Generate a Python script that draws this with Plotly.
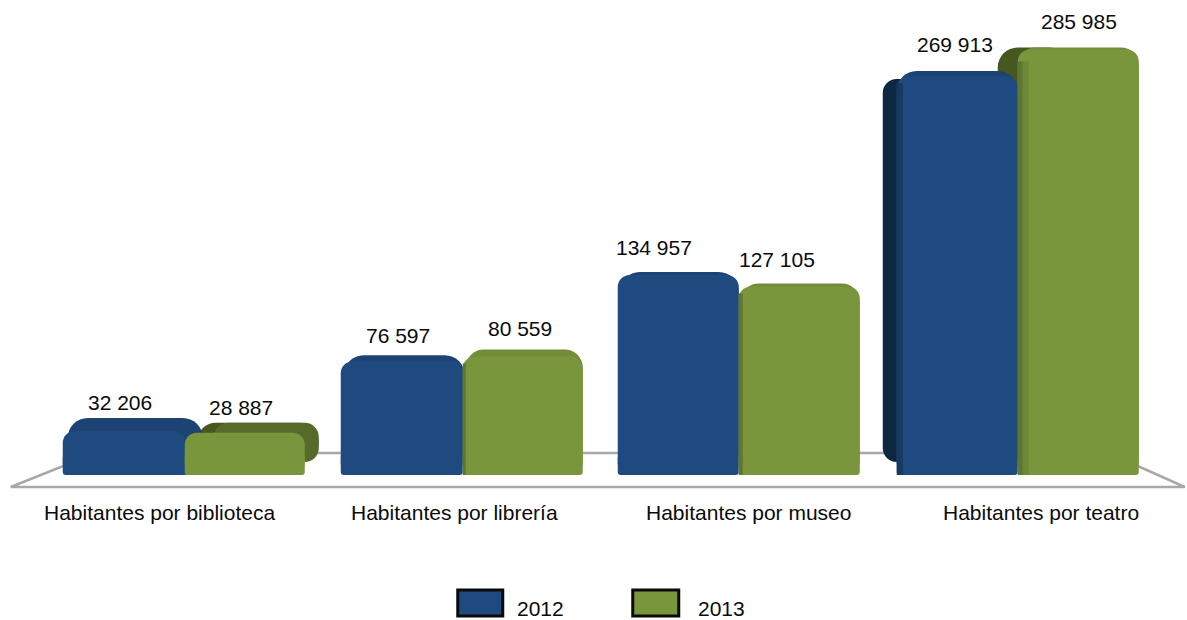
"""Habitantes por equipamiento cultural, 2012 y 2013."""

import plotly.graph_objects as go

categories = [
    "Habitantes por biblioteca",
    "Habitantes por librería",
    "Habitantes por museo",
    "Habitantes por teatro",
]
years = ["2012", "2013"]
values_2012 = [32206, 76597, 134957, 269913]
values_2013 = [28887, 80559, 127105, 285985]

BLUE = "#1f4a7f"
BLUE_TOP = "#1c4374"
BLUE_DARK = "#0e2740"
BLUE_SHADE = "#17385f"
GREEN = "#7a963c"
GREEN_TOP = "#728c38"
GREEN_DARK = "#566b2a"
GREEN_SIDE = "#46571f"
GREEN_SHADE = "#5f7630"
GREEN_SHADE_LIGHT = "#6d8836"
GRAY = "#a8a8a8"
FONT = "Liberation Sans"

WIDTH, HEIGHT = 1187, 620
LEFT, TOP, PLOT_W, PLOT_H = 46.25, 20, 1110, 480
ZERO_PX = 465  # the value zero sits above the bar foot, the bars stand in perspective
PX_PER_UNIT = 0.00146
BASE_FRONT = -10 / PX_PER_UNIT
BASE_SIDE = 3 / PX_PER_UNIT
FOOT_TOP = 10 / PX_PER_UNIT


def span(indexes, edges):
    """Offsets and widths, in category units, from left and right pixel edges."""
    offsets, widths = [], []
    for i, (left, right) in zip(indexes, edges):
        centre = LEFT + (i + 0.5) * PLOT_W / 4
        offsets.append((left - centre) / (PLOT_W / 4))
        widths.append((right - left) / (PLOT_W / 4))
    return offsets, widths


def add_layer(fig, series, indexes, edges, drop_px, base, color, radius, foot=False):
    offsets, widths = span(indexes, edges)
    names = [categories[i] for i in indexes]
    fig.add_trace(
        go.Bar(
            x=names,
            y=[series[i] - d / PX_PER_UNIT - base for i, d in zip(indexes, drop_px)],
            base=base,
            offset=offsets,
            width=widths,
            marker=dict(color=color, line_width=0, cornerradius=radius),
            hoverinfo="skip",
            showlegend=False,
        )
    )
    # plotly rounds both ends of a bar with a base, square the foot off again
    if foot:
        fig.add_trace(
            go.Bar(
                x=names,
                y=[FOOT_TOP - base] * len(names),
                base=base,
                offset=offsets,
                width=widths,
                marker=dict(color=color, line_width=0, cornerradius=3),
                hoverinfo="skip",
                showlegend=False,
            )
        )


fig = go.Figure()
# back to front: the order matters where the bars overlap
add_layer(fig, values_2013, [0, 3], [(197, 319), (998, 1070)], [0, 0], BASE_SIDE, GREEN_SIDE, 20)
add_layer(fig, values_2013, [0], [(214, 319)], [0], BASE_SIDE, GREEN_DARK, 14)
add_layer(fig, values_2013, [1, 2, 3], [(466, 583), (741, 860), (1018, 1139)], [2, 4, 0], BASE_FRONT, GREEN_TOP, 18)
add_layer(fig, values_2012, [3], [(883, 960)], [8], BASE_SIDE, BLUE_DARK, 14)
add_layer(fig, values_2012, [0, 1, 2, 3],
          [(68, 203), (344, 465), (620, 739), (897, 1018)], [0, 2, 4, 0], BASE_FRONT, BLUE_TOP, 20)
add_layer(fig, values_2012, [0, 1, 2, 3],
          [(63, 186), (341, 463), (618, 739), (897, 1018)], [13, 8, 7, 5], BASE_FRONT, BLUE, 12, foot=True)
add_layer(fig, values_2013, [0, 1, 2, 3],
          [(185, 305), (463, 583), (739, 860), (1018, 1139)], [10, 9, 7, 2], BASE_FRONT, GREEN, 12, foot=True)
# soft edges where one bar throws a shadow on the next
add_layer(fig, values_2012, [3], [(897, 903)], [12], BASE_FRONT, BLUE_SHADE, 0)
add_layer(fig, values_2013, [1, 2, 3], [(463, 466), (739, 743), (1018, 1023)], [16, 14, 14], BASE_FRONT, GREEN_SHADE, 0)
add_layer(fig, values_2013, [3], [(1023, 1029)], [14], BASE_FRONT, GREEN_SHADE_LIGHT, 0)


def px_x(px):
    return (px - LEFT) / PLOT_W


def px_y(px):
    return 1 - (px - TOP) / PLOT_H


floor = [(11, 487), (96, 453), (1109, 453), (1185, 487)]
fig.add_shape(
    type="path",
    path="M " + " L ".join(f"{px_x(x)},{px_y(y)}" for x, y in floor) + " Z",
    xref="paper",
    yref="paper",
    line=dict(color=GRAY, width=2.5),
    layer="below",
)

# value labels
label_shift_x = [-4, -4, -3, -2, -25, -23, -1, 2]
label_shift_y = [15, 15, 18, 19, 20, 20, 26, 26]
label_slots = [(c, v) for c, pair in zip(categories, zip(values_2012, values_2013)) for v in pair]
for k, (cat, value) in enumerate(label_slots):
    centre_shift = (-61 if k % 2 == 0 else 60) + label_shift_x[k]
    fig.add_annotation(
        x=cat,
        y=value,
        text=f"{value:,}".replace(",", " "),
        showarrow=False,
        xanchor="center",
        yanchor="middle",
        xshift=centre_shift,
        yshift=label_shift_y[k],
    )

# category labels sit a little wider apart than the bar groups
category_shift = [-25, -8, 9, 24]
for cat, shift in zip(categories, category_shift):
    fig.add_annotation(
        x=cat,
        y=0,
        yref="paper",
        text=cat,
        showarrow=False,
        xanchor="center",
        yanchor="middle",
        xshift=shift,
        yshift=-12,
    )

# legend drawn by hand, the swatches are larger than plotly's
swatches = [(458, 503, BLUE), (633, 679, GREEN)]
legend_text_x = [541, 722]
for (x0, x1, color), year, text_x in zip(swatches, years, legend_text_x):
    fig.add_shape(
        type="rect",
        xref="paper",
        yref="paper",
        x0=px_x(x0),
        x1=px_x(x1),
        y0=px_y(616),
        y1=px_y(590),
        fillcolor=color,
        line=dict(color="#0a0a0a", width=3),
    )
    fig.add_annotation(
        x=px_x(text_x),
        y=px_y(608),
        xref="paper",
        yref="paper",
        text=year,
        showarrow=False,
        xanchor="center",
        yanchor="middle",
    )

fig.update_xaxes(
    type="category",
    categoryorder="array",
    categoryarray=categories,
    range=[-0.5, 3.5],
    visible=False,
)
fig.update_yaxes(
    range=[
        (ZERO_PX - (TOP + PLOT_H)) / PX_PER_UNIT,
        (ZERO_PX - TOP) / PX_PER_UNIT,
    ],
    visible=False,
)
fig.update_layout(
    width=WIDTH,
    height=HEIGHT,
    autosize=False,
    margin=dict(l=LEFT, r=WIDTH - LEFT - PLOT_W, t=TOP, b=HEIGHT - TOP - PLOT_H, pad=0),
    barmode="overlay",
    plot_bgcolor="white",
    paper_bgcolor="white",
    font=dict(family=FONT, size=21, color="#0a0a0a"),
)
fig.write_html(
    "out.html",
    config={"displayModeBar": False},
    post_script="document.body.style.margin='0';window.dispatchEvent(new Event('resize'));",
)
